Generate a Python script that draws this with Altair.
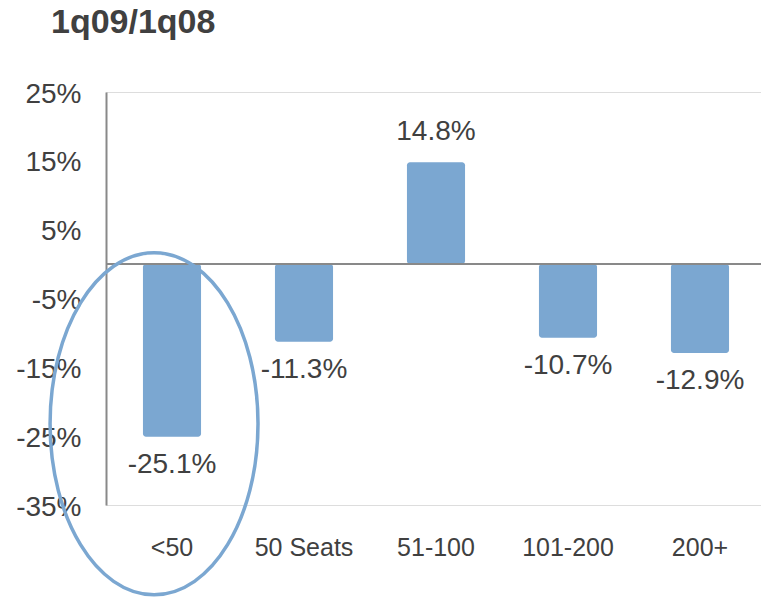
import altair as alt
import pandas as pd

categories = ["<50", "50 Seats", "51-100", "101-200", "200+"]
changes = [-25.1, -11.3, 14.8, -10.7, -12.9]
y_ticks = [-35, -25, -15, -5, 5, 15, 25]
highlight_category = ["<50"]
highlight_center = [-23.2]

df = pd.DataFrame({"cat": categories, "val": changes})
df["label"] = [f"{v:.1f}%" for v in changes]
hl = pd.DataFrame({"cat": highlight_category, "val": highlight_center})

TEXT = "#404040"
BAR = "#7BA7D1"
AXIS = "#898989"
FONT = "Liberation Sans"

x = alt.X(
    "cat:N",
    sort=categories,
    scale=alt.Scale(domain=categories, range=[0, 660], paddingInner=0.56, paddingOuter=0.28),
    axis=alt.Axis(title=None, domain=False, ticks=False, labelAngle=0,
                  labelFont=FONT, labelFontSize=25,
                  labelColor=TEXT, labelPadding=42, labelBaseline="middle"),
)
y = alt.Y(
    "val:Q",
    scale=alt.Scale(domain=[-35, 25], nice=False, zero=False),
    axis=alt.Axis(title=None, values=y_ticks, labelExpr="datum.value + '%'",
                  grid=False, ticks=False, domainColor=AXIS, domainWidth=2,
                  labelFontSize=28, labelColor=TEXT, labelFont=FONT, labelPadding=25,
                  labelOffset=2),
)

base = alt.Chart(df)
bars = base.mark_bar(color=BAR, cornerRadius=3).encode(x=x, y=y, y2=alt.datum(0))
zero = alt.Chart(df).mark_rule(color=AXIS, strokeWidth=2).encode(y=alt.datum(0))
neg = base.transform_filter("datum.val < 0").mark_text(
    font=FONT, fontSize=28, color=TEXT, baseline="alphabetic", dy=36
).encode(x=x, y=y, text="label:N")
pos = base.transform_filter("datum.val >= 0").mark_text(
    font=FONT, fontSize=28, color=TEXT, baseline="alphabetic", dy=-22
).encode(x=x, y=y, text="label:N")

ellipse_path = "M -0.105 -1 A 0.608 1 0 1 1 -0.105 1 A 0.608 1 0 1 1 -0.105 -1 Z"
ellipse = alt.Chart(hl).mark_point(
    shape=ellipse_path, filled=False, color=BAR, strokeWidth=3.5, opacity=1, size=116964
).encode(x=x, y=y)

chart = alt.layer(bars, zero, neg, pos, ellipse).properties(
    width=655,
    height=413,
    title=alt.TitleParams("1q09/1q08", anchor="start", frame="group", font=FONT,
                          fontSize=34, fontWeight="bold", color=TEXT,
                          baseline="alphabetic", offset=13, dx=-55),
    autosize=alt.AutoSizeParams(type="none"),
    padding={"left": 106, "top": 92, "right": 0, "bottom": 92},
).configure_view(stroke=None).configure(background="white")

chart.save("out.html", embed_options={"renderer": "svg", "actions": False})
